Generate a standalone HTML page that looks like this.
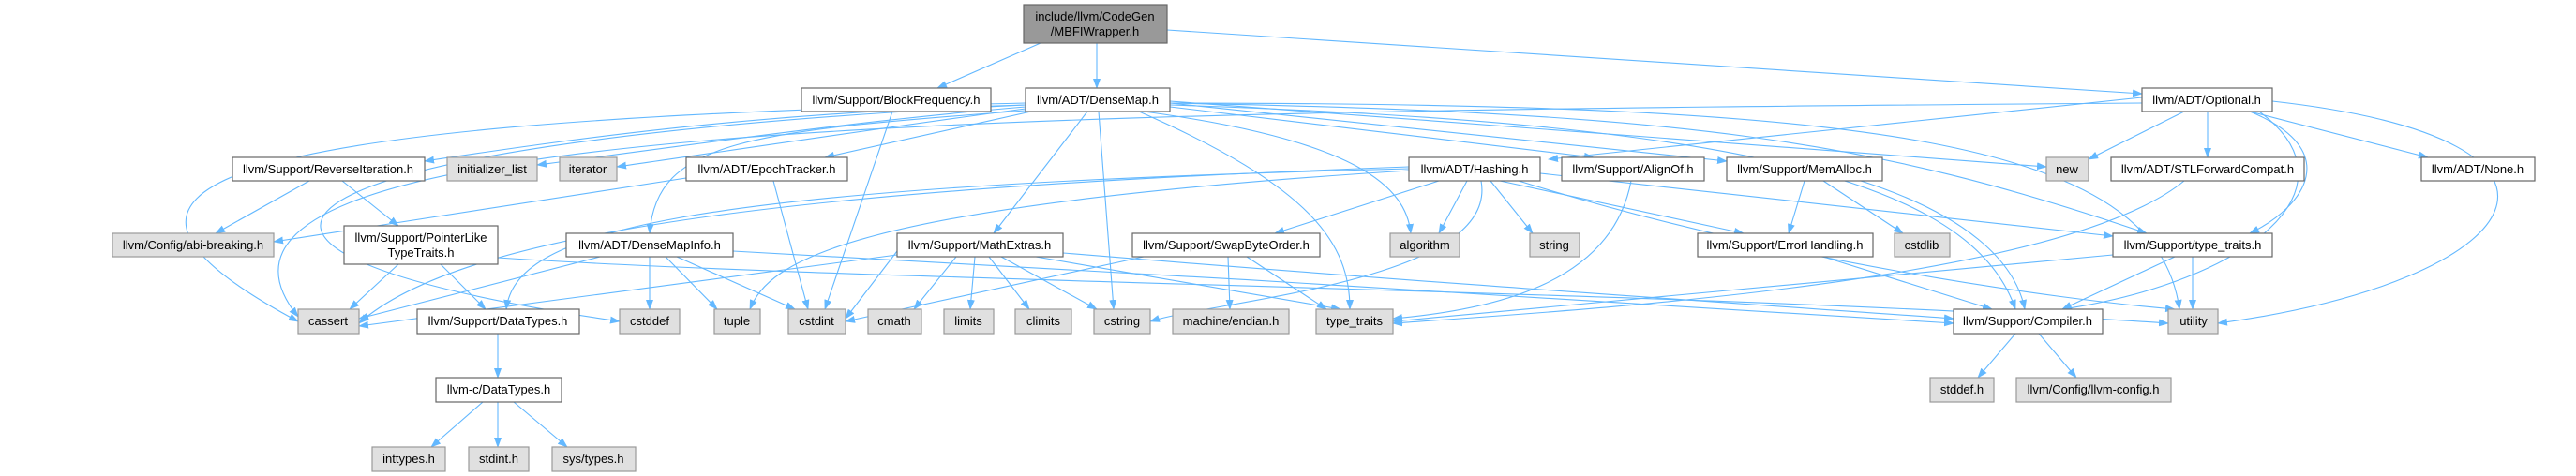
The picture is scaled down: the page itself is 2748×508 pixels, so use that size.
<!DOCTYPE html>
<html><head><meta charset="utf-8"><style>
html,body{margin:0;padding:0;background:#fff;}
svg{display:block;}
text{font-family:"Liberation Sans",Arial,sans-serif;font-size:13px;fill:#000;text-anchor:middle;}
.n{fill:#fff;stroke:#666;stroke-width:1.2;}
.g{fill:#e0e0e0;stroke:#999;stroke-width:1.2;}
.r{fill:#999;stroke:#666;stroke-width:1.2;}
.e{fill:none;stroke:#63b8ff;stroke-width:1.1;marker-end:url(#a);}
</style></head><body>
<svg width="2748" height="508" viewBox="0 0 2748 508" xmlns="http://www.w3.org/2000/svg">
<defs><marker id="a" markerWidth="11" markerHeight="8" refX="10" refY="4" orient="auto" markerUnits="userSpaceOnUse"><path d="M0,0 L11,4 L0,8 z" fill="#63b8ff"/></marker></defs>
<g>
<path class="e" d="M1110 46 L1000 94"/>
<path class="e" d="M1170 46 L1170 94"/>
<path class="e" d="M1245 32 L2285 100"/>
<path class="e" d="M952 119 L880 330"/>
<path class="e" d="M1094 112 C800 120,600 150,453 172"/>
<path class="e" d="M1094 114 C900 130,700 160,573 176"/>
<path class="e" d="M1094 116 C950 135,750 165,658 178"/>
<path class="e" d="M1100 119 L880 168"/>
<path class="e" d="M1094 118 C800 140,700 150,693 249"/>
<path class="e" d="M1160 119 L1060 249"/>
<path class="e" d="M1172 119 L1188 330"/>
<path class="e" d="M1215 119 C1400 200,1440 260,1440 330"/>
<path class="e" d="M1220 119 C1450 150,1500 200,1505 249"/>
<path class="e" d="M1248 114 L1700 168"/>
<path class="e" d="M1248 110 L1842 172"/>
<path class="e" d="M1248 108 L2183 178"/>
<path class="e" d="M1248 110 C1800 120,2000 150,2290 249"/>
<path class="e" d="M1248 112 C1800 130,2100 180,2150 330"/>
<path class="e" d="M1248 110 C2000 110,2300 150,2325 330"/>
<path class="e" d="M1094 110 C200 130,50 200,318 343"/>
<path class="e" d="M1094 112 C300 150,100 260,661 343"/>
<path class="e" d="M2285 104 L1652 170"/>
<path class="e" d="M2330 119 L2228 170"/>
<path class="e" d="M2355 119 L2355 168"/>
<path class="e" d="M2400 119 L2590 168"/>
<path class="e" d="M2400 119 C2500 160,2460 220,2400 249"/>
<path class="e" d="M2410 119 C2520 200,2400 300,2200 330"/>
<path class="e" d="M2424 108 C2800 150,2700 300,2366 345"/>
<path class="e" d="M2285 110 C1000 120,150 130,318 338"/>
<path class="e" d="M330 193 L230 249"/>
<path class="e" d="M365 193 L425 241"/>
<path class="e" d="M732 190 L292 258"/>
<path class="e" d="M825 193 L862 330"/>
<path class="e" d="M425 282 L373 330"/>
<path class="e" d="M470 282 L518 330"/>
<path class="e" d="M531 275 C900 300,1800 310,2313 345"/>
<path class="e" d="M640 274 L383 340"/>
<path class="e" d="M693 274 L693 330"/>
<path class="e" d="M710 274 L765 330"/>
<path class="e" d="M722 274 L848 330"/>
<path class="e" d="M782 268 C1200 290,1700 320,2084 345"/>
<path class="e" d="M1503 178 C900 200,500 240,383 345"/>
<path class="e" d="M1503 180 C700 200,550 250,540 330"/>
<path class="e" d="M1503 182 C900 220,820 280,800 330"/>
<path class="e" d="M1535 193 L1360 249"/>
<path class="e" d="M1565 193 L1535 249"/>
<path class="e" d="M1590 193 L1635 249"/>
<path class="e" d="M1600 193 L1860 249"/>
<path class="e" d="M1643 185 L2254 252"/>
<path class="e" d="M1580 193 C1600 300,1300 320,1227 343"/>
<path class="e" d="M1620 193 C1900 280,2200 320,2320 330"/>
<path class="e" d="M1740 193 C1720 300,1600 330,1486 340"/>
<path class="e" d="M1925 193 L1908 249"/>
<path class="e" d="M1945 193 L2030 249"/>
<path class="e" d="M1985 193 C2100 230,2150 280,2160 330"/>
<path class="e" d="M2330 193 C2200 300,1700 330,1486 345"/>
<path class="e" d="M957 272 L383 348"/>
<path class="e" d="M1020 274 L975 330"/>
<path class="e" d="M1040 274 L1035 330"/>
<path class="e" d="M1055 274 L1098 330"/>
<path class="e" d="M1068 274 L1170 330"/>
<path class="e" d="M1105 274 L1430 330"/>
<path class="e" d="M957 268 L902 340"/>
<path class="e" d="M1134 270 C1500 300,1800 320,2084 340"/>
<path class="e" d="M1220 274 L902 343"/>
<path class="e" d="M1310 274 L1312 330"/>
<path class="e" d="M1330 274 L1415 330"/>
<path class="e" d="M1945 274 L2125 330"/>
<path class="e" d="M2320 274 L2200 330"/>
<path class="e" d="M2339 274 L2339 330"/>
<path class="e" d="M2254 272 L1486 343"/>
<path class="e" d="M2150 356 L2110 403"/>
<path class="e" d="M2175 356 L2215 403"/>
<path class="e" d="M531 356 L531 403"/>
<path class="e" d="M515 429 L460 477"/>
<path class="e" d="M531 429 L531 477"/>
<path class="e" d="M548 429 L605 477"/>
</g>
<g>
<rect class="r" x="1092" y="5" width="153" height="41"/><text x="1168" y="22">include/llvm/CodeGen</text><text x="1168" y="38">/MBFIWrapper.h</text>
<rect class="n" x="855" y="94" width="202" height="25"/><text x="956" y="111">llvm/Support/BlockFrequency.h</text>
<rect class="n" x="1094" y="94" width="154" height="25"/><text x="1171" y="111">llvm/ADT/DenseMap.h</text>
<rect class="n" x="2285" y="94" width="139" height="25"/><text x="2354" y="111">llvm/ADT/Optional.h</text>

<rect class="n" x="248" y="168" width="205" height="25"/><text x="350" y="185">llvm/Support/ReverseIteration.h</text>
<rect class="g" x="477" y="168" width="96" height="25"/><text x="525" y="185">initializer_list</text>
<rect class="g" x="597" y="168" width="61" height="25"/><text x="627" y="185">iterator</text>
<rect class="n" x="732" y="168" width="172" height="25"/><text x="818" y="185">llvm/ADT/EpochTracker.h</text>
<rect class="n" x="1503" y="168" width="140" height="25"/><text x="1573" y="185">llvm/ADT/Hashing.h</text>
<rect class="n" x="1666" y="168" width="152" height="25"/><text x="1742" y="185">llvm/Support/AlignOf.h</text>
<rect class="n" x="1842" y="168" width="166" height="25"/><text x="1925" y="185">llvm/Support/MemAlloc.h</text>
<rect class="g" x="2183" y="168" width="45" height="25"/><text x="2205" y="185">new</text>
<rect class="n" x="2252" y="168" width="206" height="25"/><text x="2355" y="185">llvm/ADT/STLForwardCompat.h</text>
<rect class="n" x="2583" y="168" width="121" height="25"/><text x="2643" y="185">llvm/ADT/None.h</text>

<rect class="g" x="120" y="249" width="172" height="25"/><text x="206" y="266">llvm/Config/abi-breaking.h</text>
<rect class="n" x="367" y="241" width="164" height="41"/><text x="449" y="258">llvm/Support/PointerLike</text><text x="449" y="274">TypeTraits.h</text>
<rect class="n" x="604" y="249" width="178" height="25"/><text x="693" y="266">llvm/ADT/DenseMapInfo.h</text>
<rect class="n" x="957" y="249" width="177" height="25"/><text x="1045" y="266">llvm/Support/MathExtras.h</text>
<rect class="n" x="1208" y="249" width="200" height="25"/><text x="1308" y="266">llvm/Support/SwapByteOrder.h</text>
<rect class="g" x="1483" y="249" width="74" height="25"/><text x="1520" y="266">algorithm</text>
<rect class="g" x="1632" y="249" width="53" height="25"/><text x="1658" y="266">string</text>
<rect class="n" x="1811" y="249" width="187" height="25"/><text x="1904" y="266">llvm/Support/ErrorHandling.h</text>
<rect class="g" x="2021" y="249" width="59" height="25"/><text x="2050" y="266">cstdlib</text>
<rect class="n" x="2254" y="249" width="170" height="25"/><text x="2339" y="266">llvm/Support/type_traits.h</text>

<rect class="g" x="318" y="330" width="65" height="26"/><text x="350" y="347">cassert</text>
<rect class="n" x="445" y="330" width="173" height="26"/><text x="531" y="347">llvm/Support/DataTypes.h</text>
<rect class="g" x="661" y="330" width="64" height="26"/><text x="693" y="347">cstddef</text>
<rect class="g" x="762" y="330" width="49" height="26"/><text x="786" y="347">tuple</text>
<rect class="g" x="841" y="330" width="61" height="26"/><text x="871" y="347">cstdint</text>
<rect class="g" x="926" y="330" width="57" height="26"/><text x="954" y="347">cmath</text>
<rect class="g" x="1007" y="330" width="53" height="26"/><text x="1033" y="347">limits</text>
<rect class="g" x="1083" y="330" width="60" height="26"/><text x="1113" y="347">climits</text>
<rect class="g" x="1167" y="330" width="60" height="26"/><text x="1197" y="347">cstring</text>
<rect class="g" x="1251" y="330" width="124" height="26"/><text x="1313" y="347">machine/endian.h</text>
<rect class="g" x="1404" y="330" width="82" height="26"/><text x="1445" y="347">type_traits</text>
<rect class="n" x="2084" y="330" width="159" height="26"/><text x="2163" y="347">llvm/Support/Compiler.h</text>
<rect class="g" x="2313" y="330" width="53" height="26"/><text x="2340" y="347">utility</text>

<rect class="n" x="465" y="403" width="134" height="26"/><text x="532" y="420">llvm-c/DataTypes.h</text>
<rect class="g" x="2059" y="403" width="68" height="26"/><text x="2093" y="420">stddef.h</text>
<rect class="g" x="2151" y="403" width="165" height="26"/><text x="2233" y="420">llvm/Config/llvm-config.h</text>

<rect class="g" x="397" y="477" width="78" height="26"/><text x="436" y="494">inttypes.h</text>
<rect class="g" x="500" y="477" width="64" height="26"/><text x="532" y="494">stdint.h</text>
<rect class="g" x="589" y="477" width="89" height="26"/><text x="633" y="494">sys/types.h</text>
</g>
</svg>
</body></html>
